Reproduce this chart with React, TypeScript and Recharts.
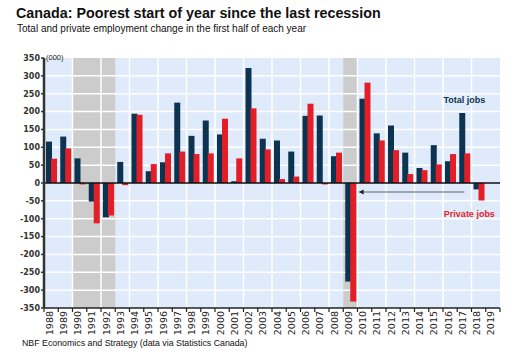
import { BarChart, Bar, XAxis, YAxis, CartesianGrid, ReferenceArea, ReferenceLine, ReferenceDot } from "recharts";

const YEARS = [
  "1988", "1989", "1990", "1991", "1992", "1993", "1994", "1995", "1996", "1997", "1998",
  "1999", "2000", "2001", "2002", "2003", "2004", "2005", "2006", "2007", "2008", "2009",
  "2010", "2011", "2012", "2013", "2014", "2015", "2016", "2017", "2018", "2019",
];

// thousands of jobs, first half of each year
const TOTAL_JOBS = [
  116, 130, 69, -52, -96, 59, 194, 33, 58, 225, 132,
  175, 136, 5, 322, 124, 119, 88, 188, 189, 75, -276,
  236, 139, 161, 85, 42, 106, 61, 196, -18, null,
];
const PRIVATE_JOBS = [
  68, 97, -4, -113, -91, -6, 191, 53, 83, 88, 81,
  83, 180, 69, 209, 94, 11, 18, 222, -4, 85, -332,
  281, 119, 92, 25, 36, 52, 81, 83, -49, null,
];

const Y_TICKS = [350, 300, 250, 200, 150, 100, 50, 0, -50, -100, -150, -200, -250, -300, -350];
const RECESSIONS = [
  ["1990", "1992"],
  ["2009", "2009"],
];
const GRID_YEARS = ["1990", "1992", "1994", "1996", "1998", "2000", "2002", "2004", "2006", "2008", "2010", "2012", "2014", "2016", "2018"];

const ARROW_FROM = "2017";
const ARROW_TO = "2010";
const ARROW_LEVEL = -25;

const data = YEARS.map((year, i) => ({ year, total: TOTAL_JOBS[i], priv: PRIVATE_JOBS[i] }));

const NAVY = "#0c3350";
const RED = "#e31e26";
const FONT = "'Liberation Sans', Arial, sans-serif";

function YearTick(props: any) {
  const { x, y, payload, index, width } = props;
  const band = width / YEARS.length;
  return (
    <g>
      <line x1={x - band / 2} x2={x - band / 2} y1={y} y2={y + 4} stroke="#222" strokeWidth={1.2} />
      {index === YEARS.length - 1 && (
        <line x1={x + band / 2} x2={x + band / 2} y1={y} y2={y + 4} stroke="#222" strokeWidth={1.2} />
      )}
      <text
        x={x + 1.5}
        y={y + 3}
        transform={`rotate(-90 ${x + 1.5} ${y + 3})`}
        textAnchor="end"
        fontSize={9.5}
        fontFamily="'DejaVu Sans', sans-serif"
        fill="#222"
      >
        {payload.value}
      </text>
    </g>
  );
}

function Arrow(props: any) {
  const { x1, y1, x2, y2 } = props;
  const left = Math.min(x1, x2);
  const right = Math.max(x1, x2);
  return (
    <g>
      <line x1={right} y1={y1} x2={left - 2} y2={y2} stroke="#8a8f96" strokeWidth={1.6} />
      <polygon points={`${left - 6},${y1} ${left - 1},${y1 - 2.5} ${left - 1},${y1 + 2.5}`} fill="#222" />
    </g>
  );
}

export default function App() {
  return (
    <div style={{ position: "absolute", left: 0, top: 0, width: 515, height: 354, background: "#fff", fontFamily: FONT }}>
      <div style={{ position: "absolute", left: 16, top: 5, fontSize: 14.3, fontWeight: "bold", color: "#111", whiteSpace: "nowrap" }}>
        Canada: Poorest start of year since the last recession
      </div>
      <div style={{ position: "absolute", left: 17, top: 23, fontSize: 10, color: "#111", whiteSpace: "nowrap" }}>
        Total and private employment change in the first half of each year
      </div>
      <div style={{ position: "absolute", left: 46, top: 53, fontSize: 7.5, color: "#222", zIndex: 2 }}>(000)</div>
      <BarChart
        width={515}
        height={354}
        data={data}
        margin={{ top: 58, right: 15, bottom: 0, left: 0 }}
        barSize={6}
        barGap={-1}
      >
        <CartesianGrid fill="#dfeafb" stroke="none" horizontal={false} vertical={false} />
        {RECESSIONS.map(([a, b]) => (
          <ReferenceArea key={a} x1={a} x2={b} y1={-350} y2={350} fill="#cccccc" fillOpacity={1} stroke="none" zIndex={-90} />
        ))}
        {Y_TICKS.filter((t) => Math.abs(t) < 350 && t !== 0).map((t) => (
          <ReferenceLine key={"h" + t} y={t} stroke="#ffffff" strokeWidth={1.5} zIndex={-80} />
        ))}
        {GRID_YEARS.map((yr) => (
          <ReferenceLine key={"v" + yr} x={yr} position="start" stroke="#ffffff" strokeWidth={1.5} zIndex={-80} />
        ))}
        <XAxis
          dataKey="year"
          interval={0}
          tickSize={0}
          tickMargin={0}
          tickLine={false}
          axisLine={{ stroke: "#222", strokeWidth: 1.5 }}
          tick={<YearTick />}
          height={46}
        />
        <YAxis
          width={44}
          domain={[-350, 350]}
          ticks={Y_TICKS}
          interval={0}
          allowDataOverflow
          axisLine={{ stroke: "#333", strokeWidth: 2.5 }}
          tickLine={{ stroke: "#333", strokeWidth: 1.5 }}
          tickSize={3}
          tickMargin={1}
          tick={{ fontSize: 8, fontWeight: "bold", fill: "#333", fontFamily: "'DejaVu Sans', sans-serif" }}
        />
        <Bar dataKey="total" fill={NAVY} isAnimationActive={false} />
        <Bar dataKey="priv" fill={RED} isAnimationActive={false} />
        <ReferenceLine y={0} stroke="#111" strokeWidth={1.5} zIndex={450} />
        <ReferenceLine
          segment={[{ x: ARROW_FROM, y: ARROW_LEVEL }, { x: ARROW_TO, y: ARROW_LEVEL }]}
          shape={<Arrow />}
          zIndex={460}
        />
        <ReferenceDot
          x="2017"
          y={232}
          r={0}
          fill="none"
          stroke="none"
          label={{ value: "Total jobs", position: "center", fill: NAVY, fontSize: 9, fontWeight: "bold", fontFamily: FONT }}
        />
        <ReferenceDot
          x="2017"
          y={-86}
          r={0}
          fill="none"
          stroke="none"
          label={{ value: "Private jobs", position: "center", fill: RED, fontSize: 9, fontWeight: "bold", fontFamily: FONT, dx: 5 }}
        />
      </BarChart>
      <div style={{ position: "absolute", left: 22, top: 338, fontSize: 8.8, color: "#111", whiteSpace: "nowrap" }}>
        NBF Economics and Strategy (data via Statistics Canada)
      </div>
    </div>
  );
}
